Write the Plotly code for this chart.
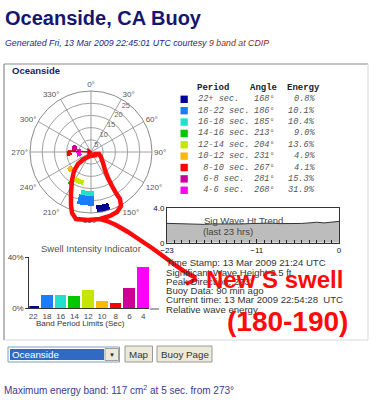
import plotly.graph_objects as go

W, H = 376, 400
SANS = "Liberation Sans, Arial, sans-serif"
MONO = "Liberation Mono, Courier New, monospace"

# ---------------- data ----------------
period_labels = ["22+ sec.", "18-22 sec.", "16-18 sec.", "14-16 sec.", "12-14 sec.",
                 "10-12 sec.", "\u00a08-10 sec.", "\u00a06-8 sec.", "\u00a04-6 sec."]
band_limits = ["22", "18", "16", "14", "12", "10", "8", "6", "4"]
band_lo = [22, 18, 16, 14, 12, 10, 8, 6, 4]
band_hi = [25, 22, 18, 16, 14, 12, 10, 8, 6]
angles = [168, 186, 185, 213, 204, 231, 267, 281, 268]
energy = [0.8, 10.1, 10.4, 9.0, 13.6, 4.9, 4.1, 15.3, 31.9]
spread = [13, 19, 18, 8, 21, 10, 13, 24, 33]
colors = ["#000099", "#1a7cff", "#22e0cc", "#00c800", "#c4e600",
          "#ffb800", "#ff0000", "#cc0099", "#ff00ff"]
radial_ticks = [5, 10, 15, 20, 25]
radial_label_dir = 37

peak_dir = 273
peak_arrow_r = [9.5, 0.8]

trend_hours = list(range(-23, 1))
trend_ht = [2.25, 2.22, 2.18, 2.2, 2.15, 2.13, 2.18, 2.16, 2.2, 2.12, 2.18, 2.22,
            2.25, 2.3, 2.28, 2.22, 2.2, 2.26, 2.24, 2.3, 2.38, 2.3, 2.42, 2.48]

info_lines = ["Time Stamp: 13 Mar 2009 21:24 UTC",
              "Significant Wave Height 2.5 ft.",
              "Peak Direction: 273\u00b0",
              "Buoy Data: 90 min ago",
              "Current time: 13 Mar 2009 22:54:28\u00a0 UTC",
              "Relative wave energy"]


def X(p):
    return p / W


def Y(p):
    return 1 - p / H


fig = go.Figure()

# ---------------- polar wedges ----------------
for i in range(len(band_lo)):
    fig.add_trace(go.Barpolar(
        r=[band_hi[i] - band_lo[i]], base=[band_lo[i]], theta=[angles[i]],
        width=[spread[i]], marker=dict(color=colors[i], line=dict(width=0)),
        subplot="polar", showlegend=False, name=period_labels[i]))

fig.add_trace(go.Scatterpolar(
    r=peak_arrow_r, theta=[peak_dir, peak_dir], mode="lines",
    line=dict(color="#dd0000", width=1.5),
    subplot="polar", showlegend=False))
fig.add_trace(go.Scatterpolar(
    r=peak_arrow_r[1:], theta=[peak_dir], mode="markers",
    marker=dict(symbol="triangle-right", size=7, color="#dd0000"),
    subplot="polar", showlegend=False))

# radial ring labels, placed just inside each ring along 37 deg
fig.add_trace(go.Scatterpolar(
    r=[t - 1.3 for t in radial_ticks], theta=[radial_label_dir] * len(radial_ticks),
    mode="text", text=[str(t) for t in radial_ticks],
    textfont=dict(size=7.5, color="#666", family=SANS),
    subplot="polar", showlegend=False, hoverinfo="skip"))

# ---------------- trend chart ----------------
fig.add_trace(go.Scatter(
    x=trend_hours, y=trend_ht, mode="lines", fill="tozeroy",
    fillcolor="#bcbcbc", line=dict(color="#333333", width=1),
    xaxis="x", yaxis="y", showlegend=False))

# ---------------- swell intensity bars ----------------
fig.add_trace(go.Bar(
    x=list(range(len(energy))), y=energy, marker=dict(color=colors, line=dict(width=0)),
    width=0.85, xaxis="x2", yaxis="y2", showlegend=False))

# ---------------- layout ----------------
cx, cy, R = 91, 152, 61
fig.update_layout(
    template="none",
    width=W, height=H, autosize=False,
    margin=dict(l=0, r=0, t=0, b=0, pad=0, autoexpand=False),
    paper_bgcolor="white", plot_bgcolor="white",
    font=dict(family=SANS),
    polar=dict(
        domain=dict(x=[X(cx - R), X(cx + R)], y=[Y(cy + R), Y(cy - R)]),
        bgcolor="white",
        angularaxis=dict(rotation=90, direction="clockwise", dtick=30,
                         ticksuffix="\u00b0", ticks="", showline=True,
                         linecolor="#8a8a8a", linewidth=1, gridcolor="#a0a0a0",
                         gridwidth=0.6, tickfont=dict(size=8, color="#555")),
        radialaxis=dict(range=[0, 25], tickvals=radial_ticks, showticklabels=False,
                        showline=False, ticks="", gridcolor="#a0a0a0",
                        gridwidth=0.6),
    ),
    xaxis=dict(domain=[X(167), X(339)], anchor="y", range=[-23, 0], automargin=False,
               tickvals=[-23, -11, 0], ticks="inside", ticklen=4, tickcolor="#222",
               minor=dict(dtick=1, ticks="inside", ticklen=3, tickcolor="#222"),
               showline=True, mirror=True, linecolor="#333", showgrid=False,
               zeroline=False, tickfont=dict(size=8, color="#111")),
    yaxis=dict(domain=[Y(242.7), Y(208.3)], anchor="x", range=[0, 4], automargin=False,
               tickvals=[0, 4], ticktext=["0", "4.0"], ticks="", showline=True,
               mirror=True, linecolor="#333", showgrid=False, zeroline=False,
               tickfont=dict(size=8, color="#111")),
    xaxis2=dict(domain=[X(29.3), X(149.3)], anchor="y2", range=[-0.29, 8.44],
                automargin=False,
                tickvals=list(range(len(band_limits))), ticktext=band_limits,
                ticks="", showline=True, linecolor="#333", showgrid=False,
                zeroline=False, tickfont=dict(size=8, color="#444")),
    yaxis2=dict(domain=[Y(308), Y(257.3)], anchor="x2", range=[0, 40], automargin=False,
                tickvals=[0, 40], ticktext=["0%", "40%"], ticks="outside",
                ticklen=3, tickcolor="#333", showline=True, linecolor="#333",
                showgrid=False, zeroline=False, tickfont=dict(size=8, color="#444")),
    bargap=0,
)

shapes = []
annots = []


def txt(x, y, s, size, color, anchor="left", family=SANS, weight="normal", style="normal"):
    annots.append(dict(x=X(x), y=Y(y), xref="paper", yref="paper", text=s,
                       showarrow=False, xanchor=anchor, yanchor="middle",
                       borderpad=0,
                       font=dict(family=family, size=size, color=color,
                                 weight=weight, style=style)))


def rect(x0, y0, x1, y1, fill="rgba(0,0,0,0)", line="#888", lw=1, layer="below"):
    shapes.append(dict(type="rect", xref="paper", yref="paper", x0=X(x0), x1=X(x1),
                       y0=Y(y0), y1=Y(y1), fillcolor=fill,
                       line=dict(color=line, width=lw), layer=layer))


def seg(x0, y0, x1, y1, color, lw=1, layer="below"):
    shapes.append(dict(type="line", xref="paper", yref="paper", x0=X(x0), x1=X(x1),
                       y0=Y(y0), y1=Y(y1), line=dict(color=color, width=lw), layer=layer))


def path(pts, color, lw, layer="above"):
    d = "M " + " L ".join(f"{X(a):.5f},{Y(b):.5f}" for a, b in pts)
    shapes.append(dict(type="path", xref="paper", yref="paper", path=d,
                       line=dict(color=color, width=lw), layer=layer))


# header
txt(4, 18, "Oceanside, CA Buoy", 20, "#16166e", weight="bold")
txt(4, 43, "<i>Generated Fri, 13 Mar 2009 22:45:01 UTC courtesy "
    "<span style='color:#8b2a10'>9 band at CDIP</span></i>", 8.8, "#26268a")

# panel
seg(4, 64, 368, 64, "#8a8a8a", 1.2)
seg(4, 64, 4, 340, "#8a8a8a", 1.2)
seg(368, 64, 368, 340, "#d8d8d8", 1)
seg(4, 340, 368, 340, "#d8d8d8", 1)
txt(11, 70.5, "Oceanside", 9.5, "#1a1a66", weight="bold")

# table
txt(195.5, 88, "Period", 9, "#222", family=MONO, weight="bold")
txt(249, 88, "Angle", 9, "#222", family=MONO, weight="bold")
txt(286, 88, "Energy", 9, "#222", family=MONO, weight="bold")
for i in range(len(period_labels)):
    yy = 99.3 + 11.37 * i
    rect(180.5, yy - 3.7, 187.8, yy + 3.7, fill=colors[i], line=colors[i], lw=0)
    txt(196.5, yy, period_labels[i], 8.6, "#555", family=MONO, style="italic")
    txt(253, yy, f"{angles[i]}\u00b0", 8.6, "#555", family=MONO, style="italic")
    txt(316, yy, f"{energy[i]:.1f}%", 8.6, "#555", family=MONO, style="italic",
        anchor="right")

# trend labels
txt(243, 220, "Sig Wave Ht Trend", 9.5, "#444", anchor="center")
txt(228, 232, "(last 23 hrs)", 9.5, "#444", anchor="center")

# bars chart labels
txt(91, 248, "Swell Intensity Indicator", 9.5, "#555", anchor="center")
txt(80, 323.5, "Band Period Limits (Sec)", 8, "#333", anchor="center")

# info text
for k, line in enumerate(info_lines):
    txt(164.5, 262.7 + 9.3 * k, line, 9.6, "#333")
seg(150, 309, 159, 309, "#555", 1)

# controls
rect(8, 347, 119.5, 362, fill="white", line="#7f9db9", lw=1)
rect(10, 349, 104, 360, fill="#316ac5", line="#316ac5", lw=0)
txt(11, 354.5, "Oceanside", 9.8, "white")
rect(105, 348.5, 118.5, 360.5, fill="#ece9d8", line="#a0a0a0", lw=1)
txt(111.8, 354.5, "\u25bc", 6, "#222", anchor="center")
rect(125, 346, 152.5, 362, fill="#ece9d8", line="#9a9a9a", lw=1)
txt(138.8, 354.2, "Map", 9.8, "#333", anchor="center")
rect(157, 346, 212, 362, fill="#ece9d8", line="#9a9a9a", lw=1)
txt(184.5, 354.2, "Buoy Page", 9.8, "#333", anchor="center")

txt(3, 390, "Maximum energy band: 117 cm<sup>2</sup> at 5 sec. from 273\u00b0", 10,
    "#3a3a8e")

# hand-drawn red annotation
loop = [(97, 155), (90, 156), (84, 159), (78, 164), (74, 171), (72, 180), (71, 193),
        (71, 205), (72, 213), (76, 219), (88, 220), (100, 219), (110, 216),
        (117, 212), (121, 206), (120, 199), (116, 193), (112, 186), (108, 178),
        (105, 170), (103, 163), (101, 157), (99, 154), (95, 154), (90, 156)]
path(loop, "#ff0a0a", 4.5)
tail = [(100, 219), (107, 221), (116, 225), (128, 232), (140, 240), (152, 248),
        (163, 256), (175, 265), (187, 273), (196, 278)]
path(tail, "#ff0a0a", 4.5)
path([(186, 284), (197, 279)], "#ff0a0a", 4)
txt(274, 279, "New S swell", 24, "#ff0a0a", anchor="center", weight="bold")
txt(287, 321, "(180-190)", 28, "#ff0a0a", anchor="center", weight="bold")

fig.update_layout(shapes=shapes, annotations=annots)
fig.write_html("out.html", config={"displayModeBar": False},
               post_script="document.body.style.margin='0';"
                           "document.body.style.overflow='hidden';")
